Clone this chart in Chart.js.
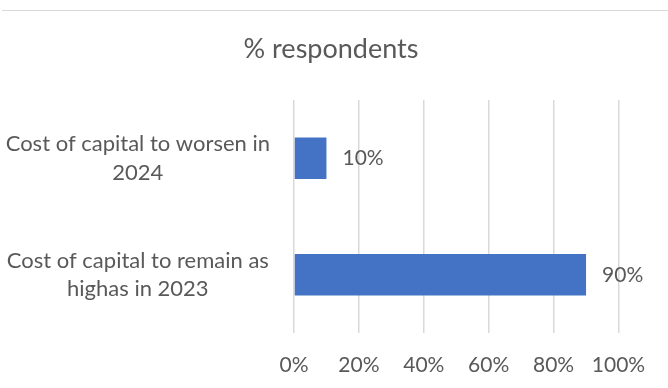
<!DOCTYPE html>
<html>
<head>
<meta charset="utf-8">
<script src="https://cdn.jsdelivr.net/npm/chart.js@4.4.1/dist/chart.umd.min.js"></script>
<style>
  html, body { margin: 0; padding: 0; background: #fff; }
  #wrap { position: relative; width: 668px; height: 388px; }
  #topline { position: absolute; left: 2px; top: 10px; width: 666px; height: 1px; background: #d9d9d9; }
</style>
</head>
<body>
<div id="wrap">
  <div id="topline"></div>
  <canvas id="chart" width="668" height="388"></canvas>
</div>
<script>
const categories = [
    ['Cost of capital to worsen in', '2024'],
    ['Cost of capital to remain as', 'highas in 2023'],
];
const shares = [10, 90]; // % respondents
const tickLabels = ['0%', '20%', '40%', '60%', '80%', '100%'];
const chartTitle = '% respondents';

const textColor = '#595959';
const fontFamily = 'Lato, "Open Sans", sans-serif';

// title centred on the whole canvas + value labels right of each bar
const textLayer = {
    id: 'textLayer',
    afterDatasetsDraw(chart) {
        const { ctx } = chart;
        const meta = chart.getDatasetMeta(0);
        ctx.save();
        ctx.fillStyle = textColor;
        ctx.textBaseline = 'middle';

        ctx.font = `27px ${fontFamily}`;
        ctx.textAlign = 'center';
        ctx.fillText(chartTitle, 331, 49);

        ctx.font = `21px ${fontFamily}`;
        ctx.textAlign = 'left';
        meta.data.forEach((bar, i) => {
            ctx.fillText(`${shares[i]}%`, bar.x + 16, bar.y);
        });
        ctx.restore();
    },
};

new Chart(document.getElementById('chart'), {
    type: 'bar',
    data: {
        labels: categories,
        datasets: [{
            data: shares,
            backgroundColor: '#4472C4',
            barPercentage: 0.71,
            categoryPercentage: 0.5,
        }],
    },
    options: {
        indexAxis: 'y',
        responsive: false,
        animation: false,
        layout: { padding: { left: 0, right: 49.5, top: 100, bottom: 0 } },
        plugins: {
            legend: { display: false },
            tooltip: { enabled: false },
        },
        scales: {
            x: {
                min: 0,
                max: 100,
                afterBuildTicks: (scale) => {
                    scale.ticks = tickLabels.map((_, i) => ({ value: i * 20 }));
                },
                afterFit: (scale) => { scale.height = 55; },
                grid: { color: '#d9d9d9', lineWidth: 1.5, drawTicks: false },
                border: { display: false },
                ticks: {
                    padding: 20,
                    color: textColor,
                    font: { family: fontFamily, size: 21 },
                    maxRotation: 0,
                    callback: (v, i) => tickLabels[i],
                },
            },
            y: {
                afterFit: (scale) => { scale.width = 294; },
                grid: { display: false },
                border: { display: false },
                ticks: {
                    crossAlign: 'center',
                    padding: 16,
                    color: textColor,
                    font: { family: fontFamily, size: 22, lineHeight: 1.3 },
                },
            },
        },
    },
    plugins: [textLayer],
});
</script>
</body>
</html>
